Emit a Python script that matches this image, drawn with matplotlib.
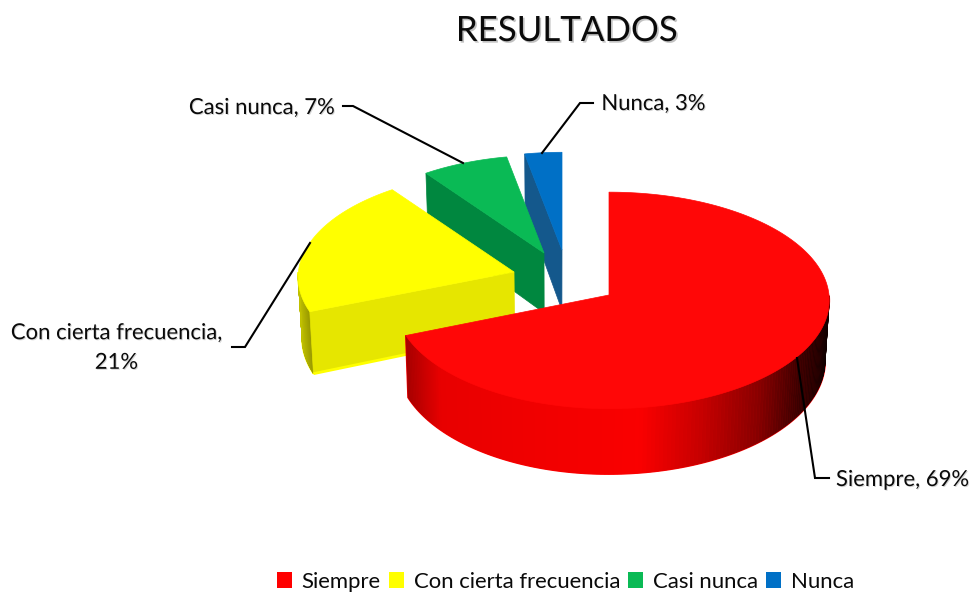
import numpy as np
import matplotlib
matplotlib.use("Agg")
import matplotlib.pyplot as plt
import matplotlib.patheffects as pe
from matplotlib.patches import Patch, Polygon
from matplotlib.colors import to_rgb

categories = ["Siempre", "Con cierta frecuencia", "Casi nunca", "Nunca"]
values = [69, 21, 7, 3]
top_colors = ["#FF0707", "#FFFF00", "#0ABA55", "#0070C6"]
legend_colors = ["#FF0000", "#FFFF00", "#0ABA55", "#0070C6"]
face_colors = [None, "#E6E600", "#00873F", "#14588C"]
data_labels = ["Siempre, 69%", "Con cierta frecuencia,\n21%", "Casi nunca, 7%", "Nunca, 3%"]

# wedge apex of each exploded slice and its radius scale (display layout)
apexes = [(609, 295), (514, 272), (544, 253), (562, 250)]
left_sx = [0.975, 0.98, 0.95, 0.95]
slice_sy = [1.0, 0.98, 0.95, 0.95]
RX, RY, PERSP, DEPTH, VX = 220, 108, 0.05, 60, 555

plt.rcParams["font.family"] = ["Lato", "DejaVu Sans"]
fig = plt.figure(figsize=(9.72, 5.92), dpi=100)
ax = fig.add_axes([0, 0, 1, 1])
ax.set_xlim(0, 972)
ax.set_ylim(592, 0)
ax.axis("off")


def rim(i, theta, bottom=False):
    apex = apexes[i]
    u, v = np.sin(theta), np.cos(theta)
    s = 1 / (1 + PERSP * v)
    sx = np.where(u < 0, left_sx[i], 1.0)
    x = apex[0] + RX * sx * u * s
    y = apex[1] - RY * slice_sy[i] * v * s
    if bottom:
        x = VX + (x - VX) * 0.985
        y = y + DEPTH * (1 - 0.09 * v)
    return x, y


def apex_bottom(apex):
    return VX + (apex[0] - VX) * 0.985, apex[1] + DEPTH


# slice angles derived from the values, clockwise from 12 o'clock
edges = np.radians(np.concatenate([[0], np.cumsum(values)]) * 3.6)


def shade_red(x):
    xs = [405, 418, 440, 640, 700, 760, 800, 830]
    rs = [165, 190, 232, 250, 200, 135, 60, 15]
    return (np.interp(x, xs, rs) / 255, 0, 0)


def shade_yellow(x):
    k = np.interp(x, [296, 310], [200, 150]) / 255
    return (k, k, 0)


# back to front: blue, green, yellow, red
for i in [3, 2, 1, 0]:
    apex = apexes[i]
    t0, t1 = edges[i], edges[i + 1]
    theta = np.linspace(t0, t1, 240)
    tx, ty = rim(i, theta)
    bx, by = rim(i, theta, bottom=True)

    # outer wall: only the part turned towards the viewer
    visible = np.cos(theta) <= 0
    if visible.any():
        idx = np.where(visible)[0]
        shade = shade_red if i == 0 else shade_yellow
        ax.add_patch(Polygon(np.r_[np.c_[tx[idx], ty[idx]], np.c_[bx[idx], by[idx]][::-1]],
                             closed=True, fc=to_rgb(top_colors[i]), ec=to_rgb(top_colors[i]),
                             lw=1.2, zorder=i * -10 + 1))
        for a, b in zip(idx[:-1], idx[1:]):
            xm = (tx[a] + tx[b]) / 2
            c = shade(xm)
            ax.add_patch(Polygon([(tx[a], ty[a]), (tx[b], ty[b]), (bx[b], by[b]), (bx[a], by[a])],
                                 closed=True, fc=c, ec=c, lw=0.4, zorder=i * -10 + 2))

    # radial wall at the leading edge, visible on yellow, green, blue
    if face_colors[i]:
        ox, oy = tx[0], ty[0]
        obx, oby = bx[0], by[0]
        ab = apex_bottom(apex)
        ax.add_patch(Polygon([(ox, oy), apex, ab, (obx, oby)], closed=True,
                             fc=face_colors[i], ec=face_colors[i], lw=0.5,
                             zorder=i * -10 + 3))
        if i == 1:
            ax.plot([obx, ab[0]], [oby, ab[1]], color="#FFFF00", lw=2.0,
                    solid_capstyle="butt", zorder=i * -10 + 4)

    # top surface
    ax.add_patch(Polygon(np.r_[[apex], np.c_[tx, ty]], closed=True,
                         fc=top_colors[i], ec=top_colors[i], lw=0.5, zorder=i * -10 + 5))

# leader lines
leaders = [
    ([797, 815, 829], [358, 478, 478]),
    ([310, 245, 232], [243, 347, 347]),
    ([463, 353, 343], [163, 106, 106]),
    ([542, 580, 593], [153, 103, 103]),
]
for lx, ly in leaders:
    ax.plot(lx, ly, color="black", lw=1.5, zorder=10, solid_joinstyle="miter")

shadow = [pe.withSimplePatchShadow(offset=(0.7, -0.7), shadow_rgbFace="#888888", alpha=0.35)]
text_color = "#0A0A0A"
label_pos = [(902.5, 480), (116.5, 348), (262, 108), (653.5, 104)]
for (x, y), txt in zip(label_pos, data_labels):
    t = ax.text(x, y, txt, ha="center", va="center", fontsize=15.9, color=text_color,
                linespacing=1.6, zorder=11)
    t.set_path_effects(shadow)

title = ax.text(567, 31, "RESULTADOS", ha="center", va="center", fontsize=25.1,
                color=text_color, zorder=11)
title.set_path_effects([pe.withSimplePatchShadow(offset=(1.2, -1.2), shadow_rgbFace="#777777", alpha=0.45)])

handles = [Patch(fc=c, ec="none") for c in legend_colors]
leg = ax.legend(handles, categories, ncol=4, frameon=False, fontsize=15.9,
                loc="center", bbox_to_anchor=(565.5 / 972, 1 - 582 / 592),
                handlelength=0.68, handleheight=0.72, handletextpad=0.45,
                columnspacing=0.36, borderpad=0, labelcolor=text_color)

fig.savefig("out.png", dpi=100, facecolor="white")
